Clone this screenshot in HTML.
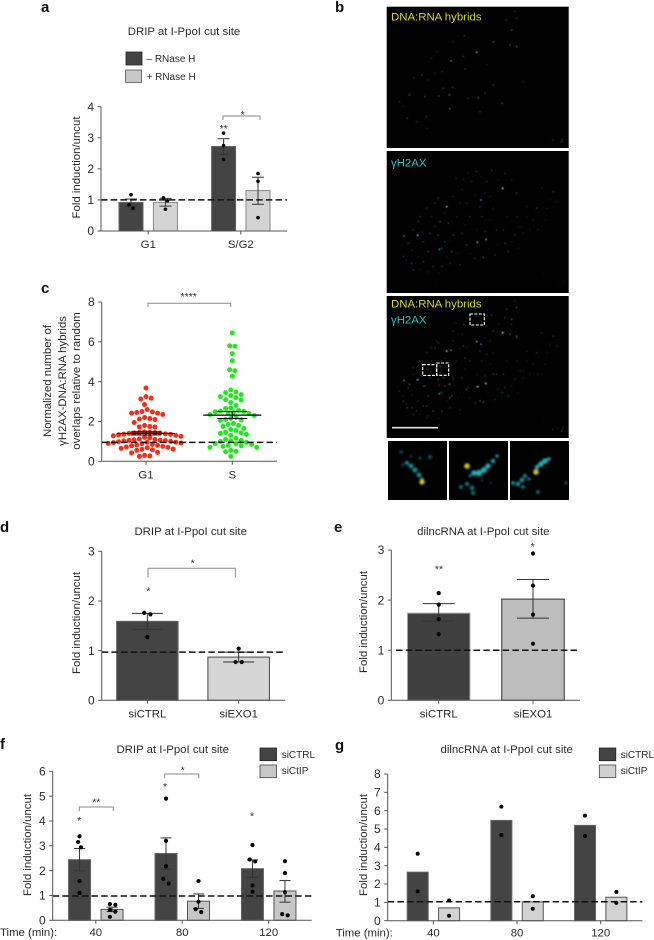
<!DOCTYPE html>
<html lang="en">
<head>
<meta charset="utf-8">
<title>DRIP and dilncRNA at I-PpoI cut site</title>
<style>
html,body{margin:0;padding:0;background:#fff;}
svg{display:block;}
text{font-family:"Liberation Sans",Arial,sans-serif;fill:#2b2b2b;font-size:11.4px;}
.pl{font-weight:bold;font-size:15px;fill:#111;}
.leg{font-size:10px;}
.mid{text-anchor:middle;}
.yt{font-size:12px;}
.star{font-size:10.5px;text-anchor:middle;}
.br{fill:none;stroke:#8a8a8a;stroke-width:1;}
</style>
</head>
<body>
<svg id="fig" xmlns="http://www.w3.org/2000/svg" width="654" height="940" viewBox="0 0 654 940">
<defs>
<filter id="soft" x="-50%" y="-50%" width="200%" height="200%"><feGaussianBlur stdDeviation="0.4"/></filter>
<filter id="soft2" x="-50%" y="-50%" width="200%" height="200%"><feGaussianBlur stdDeviation="1"/></filter>
</defs>

<text class="pl" x="41" y="12">a</text>
<text class="pl" x="335" y="12">b</text>
<text class="pl" x="41" y="293">c</text>
<text class="pl" x="0" y="532">d</text>
<text class="pl" x="334" y="532">e</text>
<text class="pl" x="0" y="749">f</text>
<text class="pl" x="335" y="750">g</text>

<!-- panel a static -->
<text class="mid" x="184" y="35">DRIP at I-PpoI cut site</text>
<rect x="126" y="52" width="16" height="13" fill="#444" stroke="#222" stroke-width="0.8"/>
<rect x="125.5" y="70" width="16" height="12.5" fill="#c8c8c8" stroke="#555" stroke-width="0.8"/>
<text class="leg" x="146.5" y="62">– RNase H</text>
<text class="leg" x="146.5" y="80">+ RNase H</text>
<text class="mid" transform="translate(80,167.5) rotate(-90)">Fold induction/uncut</text>
<path class="br" d="M223 120V116H260V120"/>
<text class="star" x="242.7" y="118">*</text>
<text class="star" x="223.7" y="132">**</text>

<!-- panel c static -->
<text class="mid" transform="translate(51,381) rotate(-90)">Normalized number of</text>
<text class="mid" transform="translate(66,381) rotate(-90)">γH2AX-DNA:RNA hybrids</text>
<text class="mid" transform="translate(80,381) rotate(-90)">overlaps relative to random</text>
<path class="br" d="M148 307V303.3H230.7V307"/>
<text class="star" x="188.7" y="300">****</text>

<!-- panel d static -->
<text class="mid" x="190.7" y="535">DRIP at I-PpoI cut site</text>
<text class="mid" transform="translate(80,623) rotate(-90)">Fold induction/uncut</text>
<path class="br" d="M148 577.5V568.3H235.3V577.5"/>
<text class="star" x="192.7" y="566.5">*</text>
<text class="star" x="148.3" y="594.5">*</text>

<!-- panel e static -->
<text class="mid" x="483.3" y="535">dilncRNA at I-PpoI cut site</text>
<text class="mid" transform="translate(367,622) rotate(-90)">Fold induction/uncut</text>
<text class="star" x="439" y="572.5">**</text>
<text class="star" x="532.7" y="550">*</text>

<!-- panel f static -->
<text class="mid" x="172.7" y="753">DRIP at I-PpoI cut site</text>
<text class="mid" transform="translate(31,845) rotate(-90)">Fold induction/uncut</text>
<rect x="260" y="748" width="16.5" height="12.7" fill="#444" stroke="#222" stroke-width="0.8"/>
<rect x="260" y="765" width="16.5" height="12.7" fill="#c6c6c6" stroke="#444" stroke-width="0.8"/>
<text class="leg" x="281.7" y="758">siCTRL</text>
<text class="leg" x="281.7" y="774">siCtIP</text>
<text x="0" y="936">Time (min):</text>
<path class="br" d="M79.3 811V807H113.3V811"/>
<text class="star" x="96.3" y="805.5">**</text>
<text class="star" x="79.3" y="824">*</text>
<path class="br" d="M164.7 778.3V774H198.7V778.3"/>
<text class="star" x="182.7" y="773.5">*</text>
<text class="star" x="165" y="790">*</text>
<text class="star" x="252" y="819.5">*</text>

<!-- panel g static -->
<text class="mid" x="506.7" y="753">dilncRNA at I-PpoI cut site</text>
<text class="mid" transform="translate(367,845) rotate(-90)">Fold induction/uncut</text>
<rect x="599.3" y="748" width="16.5" height="12.7" fill="#444" stroke="#222" stroke-width="0.8"/>
<rect x="599.3" y="765" width="16.5" height="12.7" fill="#d0d0d0" stroke="#444" stroke-width="0.8"/>
<text class="leg" x="620.7" y="758">siCTRL</text>
<text class="leg" x="620.7" y="774">siCtIP</text>
<text x="335.7" y="936.5">Time (min):</text>

<!-- panel b microscopy -->
<rect x="386.7" y="6.7" width="182" height="141.3" fill="#000"/>
<rect x="386.7" y="151" width="182" height="142" fill="#000"/>
<rect x="386.7" y="296" width="182" height="142" fill="#000"/>
<g id="spots1" filter="url(#soft)"></g>
<g id="spots2" filter="url(#soft)"></g>
<g id="spots3" filter="url(#soft)"></g>
<text x="391" y="20.7" style="fill:#d6d62a">DNA:RNA hybrids</text>
<text x="391" y="166.7" style="fill:#35c4c4">γH2AX</text>
<text x="391" y="307.3" style="fill:#d6d62a">DNA:RNA hybrids</text>
<text x="391" y="323.3" style="fill:#35c4c4">γH2AX</text>
<g fill="none" stroke="#fff" stroke-width="1.1" stroke-dasharray="3 1.4">
<rect x="470" y="314" width="14.3" height="11"/>
<rect x="422.7" y="364.7" width="14" height="10.7"/>
<rect x="436.7" y="363" width="12" height="12.3"/>
</g>
<line x1="392" x2="438" y1="427.7" y2="427.7" stroke="#e8e8e8" stroke-width="1.6"/>

<g>
<rect x="388" y="441" width="59" height="59" fill="#000"/>
<g filter="url(#soft2)">
<g fill="#1c8f9a"><circle cx="407" cy="463" r="2"/><circle cx="411" cy="466" r="2.4"/><circle cx="415" cy="470" r="2.6"/><circle cx="419" cy="475" r="2.4"/><circle cx="422" cy="479" r="1.6"/></g>
<g fill="#0f5058"><circle cx="401" cy="452" r="1.8"/><circle cx="403" cy="465" r="1.5"/><circle cx="420" cy="458" r="1.6"/><circle cx="430" cy="457" r="2.2"/><circle cx="411" cy="456" r="1.3"/></g>
<circle cx="422" cy="482" r="2.7" fill="#d6c81e"/>
</g></g>
<g>
<rect x="449" y="441" width="59" height="59" fill="#000"/>
<g filter="url(#soft2)">
<g fill="#26b0bc"><circle cx="474" cy="473" r="2.8"/><circle cx="479" cy="473" r="3.2"/><circle cx="484" cy="470" r="3"/><circle cx="488" cy="466" r="2.6"/><circle cx="493" cy="461" r="2"/><circle cx="497" cy="456" r="1.6"/></g>
<g fill="#15727c"><circle cx="461" cy="487" r="2"/><circle cx="467" cy="484" r="2.2"/><circle cx="472" cy="488" r="2.4"/><circle cx="473" cy="493" r="2"/><circle cx="470" cy="476" r="1.6"/></g>
<g fill="#0c3f46"><circle cx="482" cy="480" r="1.5"/><circle cx="491" cy="483" r="1.3"/></g>
<circle cx="467" cy="466" r="2.8" fill="#d6c81e"/>
</g></g>
<g>
<rect x="510" y="441" width="59" height="59" fill="#000"/>
<g filter="url(#soft2)">
<g fill="#188a94"><circle cx="513" cy="483" r="2"/><circle cx="518" cy="484" r="2.4"/><circle cx="522" cy="480" r="2.4"/><circle cx="525" cy="476" r="2"/><circle cx="523" cy="487" r="1.8"/><circle cx="529" cy="479" r="1.6"/></g>
<g fill="#26b0bc"><circle cx="537" cy="467" r="2.2"/><circle cx="541" cy="464" r="2.8"/><circle cx="545" cy="461" r="2.8"/><circle cx="549" cy="459" r="1.8"/></g>
<g fill="#14666e"><circle cx="538" cy="492" r="2"/><circle cx="566" cy="483" r="1.5"/></g>
<circle cx="536" cy="472" r="2.8" fill="#d6c81e"/>
</g></g>
</svg>

<script>
// ---- Panel a ----
const aCategories = ['G1', 'S/G2'];
const aYTicks = [0, 1, 2, 3, 4];
const aMeans = [0.92, 0.92, 2.72, 1.3];
const aUpper = [1.03, 1.05, 2.97, 1.73];
const aLower = [0.8, 0.8, 2.47, 0.86];
const aDots = [[1.17, 0.84, 0.73], [1.07, 0.97, 0.7], [3.15, 2.75, 2.3], [1.85, 1.6, 0.43]];
const aBaseline = 1;

// ---- Panel c ----
const cCategories = ['G1', 'S'];
const cYTicks = [0, 2, 4, 6, 8];
const cG1Values = [3.68,3.25,3.17,3.13,2.85,2.6,2.5,2.48,2.45,2.42,2.42,2.35,2.2,2.15,2.12,2.1,1.95,1.8,1.75,1.73,1.72,1.48,1.46,1.45,1.44,1.43,1.42,1.4,1.38,1.36,1.35,1.33,1.3,1.28,1.25,1.2,1.18,1.12,1.1,1.08,1.06,1.05,1.04,1.02,1.0,0.98,0.96,0.95,0.94,0.92,0.9,0.88,0.85,0.82,0.8,0.78,0.75,0.72,0.7,0.68,0.65,0.62,0.6,0.58,0.55,0.45,0.42,0.3,0.27,0.25];
const cSValues = [6.45,5.8,5.78,5.4,5.05,4.6,4.55,4.28,3.58,3.48,3.45,3.35,3.3,3.25,3.2,3.1,3.08,2.95,2.8,2.68,2.65,2.55,2.52,2.5,2.48,2.45,2.42,2.4,2.35,2.3,2.2,2.15,2.1,2.08,2.05,1.9,1.85,1.8,1.75,1.65,1.6,1.55,1.45,1.42,1.4,1.35,1.3,1.15,1.1,1.05,1.03,1.0,0.95,0.9,0.88,0.85,0.8,0.78,0.75,0.7,0.7,0.55,0.5,0.48,0.25];
const cMeans = [1.4, 2.32];
const cUpper = [1.48, 2.5];
const cLower = [1.32, 2.15];
const cBaseline = 0.95;

// ---- Panel d ----
const dCategories = ['siCTRL', 'siEXO1'];
const dYTicks = [0, 1, 2, 3];
const dMeans = [1.59, 0.87];
const dUpper = [1.75, 0.97];
const dLower = [1.43, 0.77];
const dDots = [[1.76, 1.73, 1.27], [1.04, 0.77, 0.77]];
const dBaseline = 0.97;

// ---- Panel e ----
const eCategories = ['siCTRL', 'siEXO1'];
const eYTicks = [0, 1, 2, 3];
const eMeans = [1.74, 2.02];
const eUpper = [1.93, 2.41];
const eLower = [1.58, 1.64];
const eDots = [[2.14, 1.91, 1.62, 1.32], [2.93, 2.29, 1.71, 1.13]];
const eBaseline = 1;

// ---- Panel f ----
const fCategories = ['40', '80', '120'];
const fYTicks = [0, 1, 2, 3, 4, 5, 6];
const fMeans = [2.44, 0.44, 2.69, 0.77, 2.08, 1.18];
const fUpper = [2.89, 0.53, 3.32, 1.06, 2.43, 1.6];
const fLower = [1.99, 0.35, 2.06, 0.48, 1.73, 0.73];
const fDots = [[3.38,3.15,2.94,1.58,1.1],[0.65,0.62,0.42,0.35,0.14],[4.9,3.2,2.18,1.67,1.48],[1.58,0.75,0.45,0.33],[3.03,2.45,2.37,1.4,1.15],[2.38,1.9,1.13,0.25,0.2]];
const fBaseline = 0.98;

// ---- Panel g ----
const gCategories = ['40', '80', '120'];
const gYTicks = [0, 1, 2, 3, 4, 5, 6, 7, 8];
const gMeans = [2.65, 0.7, 5.47, 1.03, 5.2, 1.28];
const gDots = [[3.65,1.6],[1.1,0.27],[6.22,4.68],[1.33,0.65],[5.73,4.62],[1.57,0.97]];
const gBaseline = 1.03;

// ---- Micrograph foci (3x crop coordinates) ----
const hybridFoci = [[320,157,1],[243,183,.8],[370,125,.6],[420,135,.6],[440,140,.6],[425,90,.6],[410,60,.5],[440,55,.5],[435,35,.4],[283,107,.4],[280,170,.5],[350,195,.4],[285,207,.5],[155,225,.5],[130,235,.4],[175,240,.4],[220,265,.5],[248,262,.5],[118,285,.6],[165,290,.5],[207,288,.5],[238,285,.7],[295,295,.4],[325,293,.6],[345,280,.4],[397,310,.5],[330,335,.5],[239,326,.6],[170,350,.5],[112,355,.5],[88,305,.4],[100,320,.3],[370,255,.5],[460,245,.3],[548,420,.4],[575,425,.5],[578,418,.4],[215,215,.4],[195,220,.3],[200,155,.3],[185,175,.3],[250,125,.3],[140,365,.4],[170,385,.3]];
const gammaFoci = [[398,565,1.3],[230,620,1],[143,706,1],[322,727,.95],[348,718,.95],[333,600,.8],[102,708,.8],[208,748,.85],[320,515,.45],[365,512,.45],[350,545,.45],[305,545,.4],[258,535,.35],[280,540,.35],[405,520,.45],[425,540,.35],[440,580,.5],[515,565,.35],[550,575,.5],[560,605,.35],[500,625,.45],[470,620,.35],[525,660,.3],[505,690,.35],[460,700,.35],[435,705,.45],[405,730,.5],[415,755,.45],[375,765,.45],[340,772,.6],[315,775,.45],[290,735,.6],[250,705,.5],[275,700,.45],[300,650,.45],[335,650,.45],[370,625,.35],[400,690,.45],[345,695,.45],[205,595,.5],[195,610,.45],[170,625,.45],[150,650,.5],[145,665,.5],[185,650,.35],[210,665,.6],[235,670,.5],[260,650,.35],[130,690,.45],[115,730,.45],[100,770,.45],[125,790,.5],[130,810,.45],[160,785,.45],[190,800,.5],[215,800,.45],[240,790,.45],[270,795,.45],[245,755,.6],[215,745,.6],[175,755,.5],[160,725,.5],[180,700,.5],[205,705,.5],[225,725,.5],[290,610,.35],[250,590,.35],[330,620,.45],[275,570,.35],[345,580,.35],[470,650,.35],[450,680,.35],[380,690,.45],[295,520,.3],[335,530,.3],[385,540,.3],[360,590,.3],[315,585,.3],[270,610,.3],[225,640,.3],[195,680,.3],[155,695,.3],[125,750,.3],[145,770,.3],[185,775,.3],[230,770,.3],[265,760,.3],[300,760,.3],[355,745,.3],[385,735,.3],[425,725,.3],[445,745,.3],[480,690,.3],[490,660,.3],[530,625,.3],[540,600,.3],[440,650,.3],[410,650,.3],[360,660,.3],[320,690,.3],[285,675,.3],[240,720,.3],[110,780,.3],[150,810,.3],[175,815,.3],[205,820,.3],[200,850,.25],[565,850,.25],[580,845,.25],[520,820,.2]];

const NS = 'http://www.w3.org/2000/svg';
const svg = document.getElementById('fig');
function el(tag, attrs, parent) {
  const e = document.createElementNS(NS, tag);
  for (const k in attrs) e.setAttribute(k, attrs[k]);
  (parent || svg).appendChild(e);
  return e;
}
function yScale(y0, yTop, max) { return v => y0 - (y0 - yTop) * v / max; }
function barX(o, i) {
  const perGroup = o.perGroup, g = Math.floor(i / perGroup), s = i % perGroup;
  return o.x0 + g * o.groupStep + (perGroup > 1 ? (s - (perGroup - 1) / 2) * o.seriesStep : 0);
}
function swarm(values, y, spacing) {
  const order = values.map((v, i) => i).sort((a, b) => values[b] - values[a]);
  const placed = [], out = new Array(values.length).fill(0);
  order.forEach(i => {
    const py = y(values[i]);
    let k = 0, off = 0;
    const step = spacing / 2;
    while (true) {
      off = (k % 2 ? 1 : -1) * Math.ceil(k / 2) * step;
      if (!placed.some(p => Math.hypot(p.x - off, p.y - py) < spacing)) break;
      k++;
    }
    placed.push({ x: off, y: py, i: i });
    out[i] = off;
  });
  placed.sort((a, b) => a.y - b.y);
  let start = 0;
  for (let j = 1; j <= placed.length; j++) {
    if (j === placed.length || placed[j].y - placed[j - 1].y >= spacing) {
      const c = placed.slice(start, j);
      const m = c.reduce((s, p) => s + p.x, 0) / c.length;
      c.forEach(p => { out[p.i] = p.x - m; });
      start = j;
    }
  }
  return out;
}
function drawAxes(o, ticks, cats, catXs) {
  const g = el('g', {});
  
  
  const yAxis = el('line', { x1: o.ax, x2: o.ax, y1: o.y(0), y2: o.y(o.max), stroke: '#555', 'stroke-width': 1 }, g);
  
  
  const xAxis = el('line', { x1: o.ax, x2: o.axEnd, y1: o.y(0), y2: o.y(0), stroke: '#555', 'stroke-width': 1 }, g);
  
  
  ticks.forEach(t => {
    const tk = el('line', { x1: o.ax - 3.5, x2: o.ax, y1: o.y(t), y2: o.y(t), stroke: '#555', 'stroke-width': 1 }, g);
    
    
    const lb = el('text', { x: o.ax - 7, y: o.y(t) + 4.2, 'text-anchor': 'end', class: 'yt' }, g);
    
    
    lb.textContent = t;
  });
  cats.forEach((c, i) => {
    const cx = catXs(i);
    const tk = el('line', { x1: cx, x2: cx, y1: o.y(0), y2: o.y(0) + 3.5, stroke: '#555', 'stroke-width': 1 }, g);
    
    
    const lb = el('text', { x: cx, y: o.catY, 'text-anchor': 'middle' }, g);
    
    
    lb.textContent = c;
  });
}
function drawBars(o, means, upper, lower, dots) {
  means.forEach((m, i) => {
    const cx = barX(o, i), s = i % o.fills.length;
    const r = el('rect', { x: cx - o.bw / 2, y: o.y(m), width: o.bw, height: o.y(0) - o.y(m), fill: o.fills[s], stroke: o.strokes[s], 'stroke-width': 1 });
    
    
  });
  if (upper) means.forEach((m, i) => {
    const cx = barX(o, i);
    const st = el('line', { x1: cx, x2: cx, y1: o.y(upper[i]), y2: o.y(lower[i]), stroke: '#333', 'stroke-width': 1 });
    
    
    const c1 = el('line', { x1: cx - o.cap / 2, x2: cx + o.cap / 2, y1: o.y(upper[i]), y2: o.y(upper[i]), stroke: '#333', 'stroke-width': 1 });
    
    
    const c2 = el('line', { x1: cx - o.cap / 2, x2: cx + o.cap / 2, y1: o.y(lower[i]), y2: o.y(lower[i]), stroke: '#333', 'stroke-width': 1 });
    
    
  });
  dots.forEach((set, i) => {
    const cx = barX(o, i), off = swarm(set, o.y, o.spacing);
    set.forEach((v, j) => {
      const d = el('circle', { cx: cx + off[j], cy: o.y(v), r: o.dotR, fill: '#000' });
      
      
    });
  });
}
function drawBaseline(o, v) {
  const l = el('line', { x1: o.dashFrom || o.ax, x2: o.dashTo || o.axEnd, y1: o.y(v), y2: o.y(v), stroke: '#111', 'stroke-width': 1.5, 'stroke-dasharray': '6.5 3.2' });
  
  
}

// panel a
const A = { ax: 101, axEnd: 287, y: yScale(231, 106.7, 4), max: 4, catY: 248, perGroup: 2, x0: 148.2, groupStep: 92.6, seriesStep: 34.4, bw: 24, cap: 12, dotR: 1.8, spacing: 4, fills: ['#444', '#d4d4d4'], strokes: ['#666', '#888'] };
drawBars(A, aMeans, aUpper, aLower, []);
drawBaseline(A, aBaseline);
drawBars(A, [], null, null, aDots);
drawAxes(A, aYTicks, aCategories, i => A.x0 + i * A.groupStep);

// panel c
const C = { ax: 101.7, axEnd: 277, y: yScale(461.3, 302, 8), max: 8, catY: 478.5, cx: [146, 232.3] };
[cG1Values, cSValues].forEach((set, i) => {
  const off = swarm(set, C.y, 5.2);
  set.forEach((v, j) => {
    const d = el('circle', { cx: C.cx[i] + off[j], cy: C.y(v), r: 2.5, fill: i === 0 ? '#f0301a' : '#22e61e' });
    
    
  });
});
cMeans.forEach((m, i) => {
  const ml = el('line', { x1: C.cx[i] - 29, x2: C.cx[i] + 29, y1: C.y(m), y2: C.y(m), stroke: '#000', 'stroke-width': 1.2 });
  
  
  const st = el('line', { x1: C.cx[i], x2: C.cx[i], y1: C.y(cUpper[i]), y2: C.y(cLower[i]), stroke: '#000', 'stroke-width': 1 });
  
  
  const u = el('line', { x1: C.cx[i] - 15, x2: C.cx[i] + 15, y1: C.y(cUpper[i]), y2: C.y(cUpper[i]), stroke: '#000', 'stroke-width': 1 });
  
  
  const lo = el('line', { x1: C.cx[i] - 15, x2: C.cx[i] + 15, y1: C.y(cLower[i]), y2: C.y(cLower[i]), stroke: '#000', 'stroke-width': 1 });
  
  
});
drawBaseline(C, cBaseline);
drawAxes(C, cYTicks, cCategories, i => C.cx[i]);

// panel d
const D = { ax: 101.7, axEnd: 285, y: yScale(700.3, 551.3, 3), max: 3, catY: 717.3, perGroup: 1, x0: 147.35, groupStep: 91.3, seriesStep: 0, bw: 61.5, cap: 31, dotR: 2.1, spacing: 6.2, fills: ['#444', '#d6d6d6'], strokes: ['#666', '#444'] };
drawBars(D, dMeans, dUpper, dLower, []);
drawBaseline(D, dBaseline);
drawBars(D, [], null, null, dDots);
drawAxes(D, dYTicks, dCategories, i => D.x0 + i * D.groupStep);

// panel e
const E = { ax: 391.3, axEnd: 580, dashFrom: 396, dashTo: 579, y: yScale(700.3, 550, 3), max: 3, catY: 717.3, perGroup: 1, x0: 438.7, groupStep: 94.3, seriesStep: 0, bw: 62.5, cap: 32, dotR: 2.1, spacing: 6, fills: ['#404040', '#bdbdbd'], strokes: ['#aaa', '#333'] };
drawBars(E, eMeans, eUpper, eLower, []);
drawBaseline(E, eBaseline);
drawBars(E, [], null, null, eDots);
drawAxes(E, eYTicks, eCategories, i => E.x0 + i * E.groupStep);

// panel f
const F = { ax: 52.7, axEnd: 311.7, y: yScale(920.3, 771.3, 6), max: 6, catY: 936, perGroup: 2, x0: 95.8, groupStep: 86.45, seriesStep: 32.5, bw: 22, cap: 11, dotR: 2.1, spacing: 5.5, fills: ['#444', '#c6c6c6'], strokes: ['#666', '#555'] };
drawBars(F, fMeans, fUpper, fLower, []);
drawBaseline(F, fBaseline);
drawBars(F, [], null, null, fDots);
drawAxes(F, fYTicks, fCategories, i => F.x0 + i * F.groupStep);

// panel g
const G = { ax: 387.7, axEnd: 642.3, y: yScale(920.7, 774, 8), max: 8, catY: 936.5, perGroup: 2, x0: 433.4, groupStep: 83.65, seriesStep: 31.4, bw: 21, cap: 0, dotR: 2, spacing: 5, fills: ['#444', '#d2d2d2'], strokes: ['#666', '#555'] };
drawBars(G, gMeans, null, null, []);
drawBaseline(G, gBaseline);
drawBars(G, [], null, null, gDots);
drawAxes(G, gYTicks, gCategories, i => G.x0 + i * G.groupStep);

// micrographs
function focus(parent, x, y, r, color, op) {
  const c = el('circle', { cx: x, cy: y, r: r, fill: color, opacity: op }, parent);
  
  
}
const s1 = document.getElementById('spots1'), s2 = document.getElementById('spots2'), s3 = document.getElementById('spots3');
hybridFoci.forEach(f => {
  const x = 370 + f[0] / 3, y = f[1] / 3;
  focus(s1, x, y, 0.55 + 0.25 * f[2], '#e8d83c', Math.min(1, f[2]));
  focus(s3, x, y + 289.3, 0.55 + 0.25 * f[2], '#e8d83c', Math.min(1, f[2]));
});
gammaFoci.forEach(f => {
  const x = 370 + f[0] / 3, y = f[1] / 3;
  focus(s2, x, y, 0.5 + 0.45 * f[2], '#35d6d6', Math.min(1, f[2]));
  focus(s3, x, y + 144.4, 0.5 + 0.45 * f[2], '#35d6d6', Math.min(1, f[2]));
});
</script>
</body>
</html>
